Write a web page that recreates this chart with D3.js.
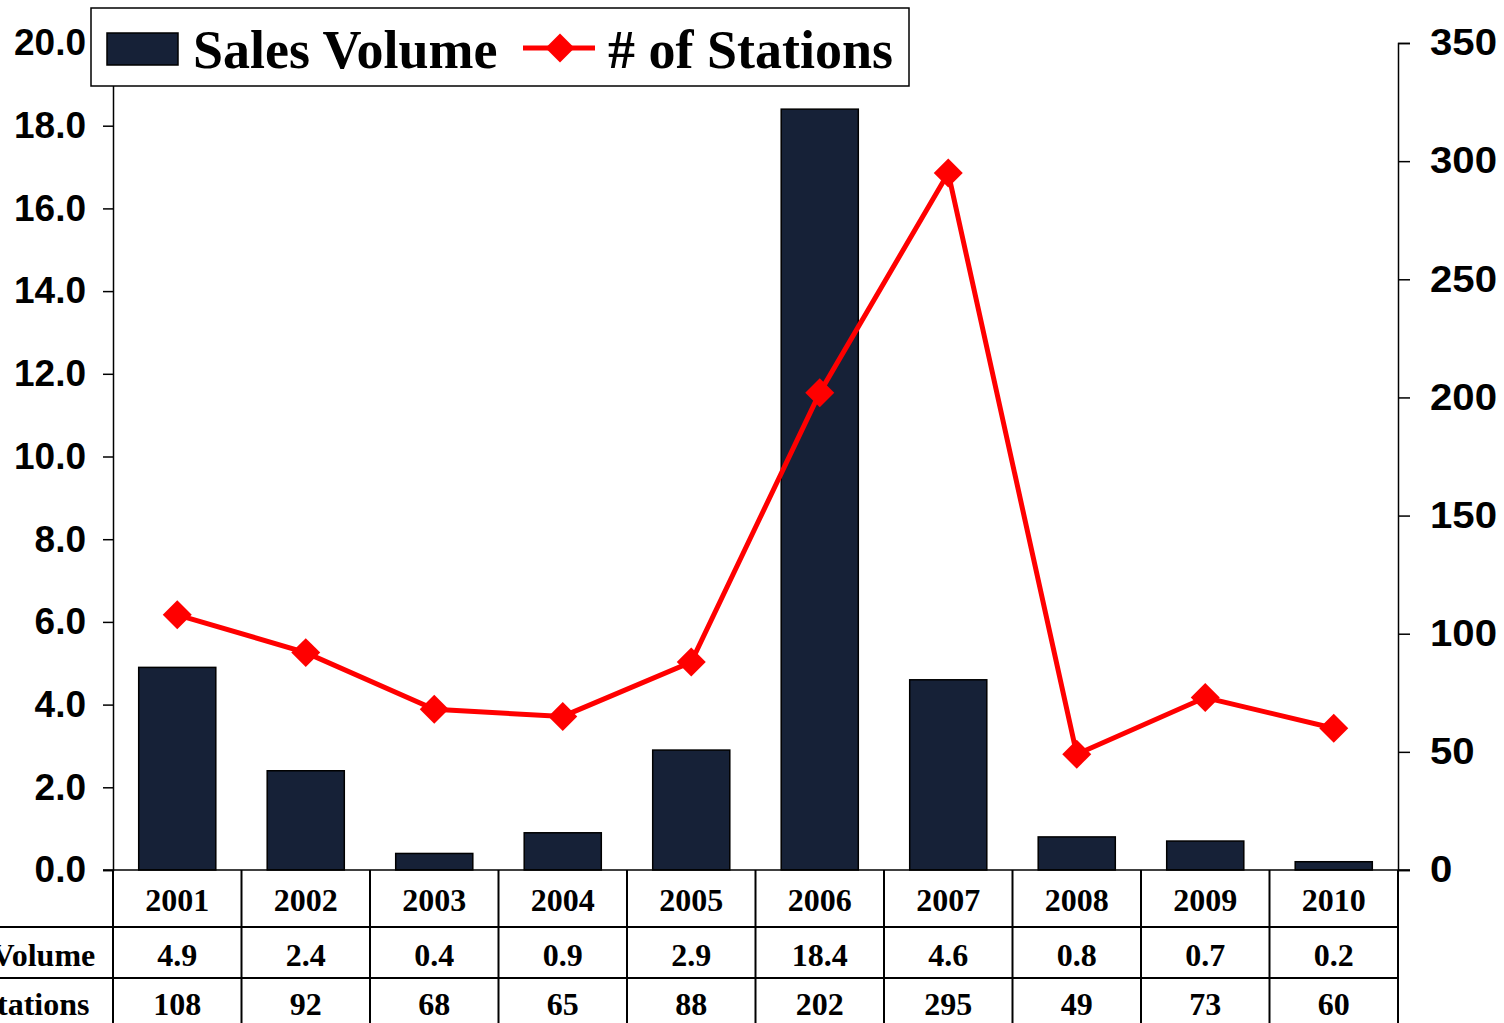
<!DOCTYPE html>
<html>
<head>
<meta charset="utf-8">
<script src="https://cdn.jsdelivr.net/npm/d3@7"></script>
<style>
  html, body { margin: 0; padding: 0; background: #fff; }
  svg { display: block; }
</style>
</head>
<body>
<div id="chart"></div>
<script>
// donnees
var years = ["2001", "2002", "2003", "2004", "2005", "2006", "2007", "2008", "2009", "2010"];
var salesVolume = [4.9, 2.4, 0.4, 0.9, 2.9, 18.4, 4.6, 0.8, 0.7, 0.2];
var stations = [108, 92, 68, 65, 88, 202, 295, 49, 73, 60];
var leftTicks = [0, 2, 4, 6, 8, 10, 12, 14, 16, 18, 20];
var rightTicks = [0, 50, 100, 150, 200, 250, 300, 350];
var rowLabels = ["Sales Volume", "# of Stations"];

var width = 1504, height = 1023;
var plotLeft = 113, plotRight = 1398, plotTop = 43, plotBottom = 870;
var rowLines = [927, 978];

var sans = "'Liberation Sans', Arial, sans-serif";
var serif = "'Liberation Serif', 'Times New Roman', serif";

var svg = d3.select("#chart").append("svg")
    .attr("width", width)
    .attr("height", height);

var x = d3.scaleBand()
    .domain(years)
    .range([plotLeft, plotRight])
    .paddingInner(0.4)
    .paddingOuter(0.2);

var xCol = d3.scaleBand()
    .domain(years)
    .range([plotLeft, plotRight]);

var yL = d3.scaleLinear().domain([0, 20]).range([plotBottom, plotTop]);
var yR = d3.scaleLinear().domain([0, 350]).range([plotBottom, plotTop]);

// barres
svg.append("g").selectAll("rect")
    .data(years)
    .enter().append("rect")
    .attr("x", function(d) { return x(d); })
    .attr("width", x.bandwidth())
    .attr("y", function(d, i) { return yL(salesVolume[i]); })
    .attr("height", function(d, i) { return plotBottom - yL(salesVolume[i]); })
    .attr("fill", "#162137")
    .attr("stroke", "#000")
    .attr("stroke-width", 1.5);

// axes
var axL = svg.append("g")
    .attr("transform", "translate(" + plotLeft + ",0)")
    .call(d3.axisLeft(yL).tickValues(leftTicks).tickSizeOuter(0).tickSize(10).tickPadding(17)
        .tickFormat(d3.format(".1f")));
var axR = svg.append("g")
    .attr("transform", "translate(" + plotRight + ",0)")
    .call(d3.axisRight(yR).tickValues(rightTicks).tickSizeOuter(0).tickSize(12).tickPadding(17.5));

[axL, axR].forEach(function(ax) {
    ax.selectAll("path, line").attr("stroke", "#000").attr("stroke-width", 1.5);
    ax.selectAll("text")
        .attr("fill", "#000")
        .style("font-family", sans)
        .style("font-weight", "bold")
        .style("font-size", "37px");
});
// les chiffres de droite sont un peu plus larges
axR.selectAll("text").attr("transform", "scale(1.085,1)");

// ligne des stations
var line = d3.line()
    .x(function(d, i) { return x(years[i]) + x.bandwidth() / 2; })
    .y(function(d) { return yR(d); });

svg.append("path")
    .datum(stations)
    .attr("d", line)
    .attr("fill", "none")
    .attr("stroke", "#ff0000")
    .attr("stroke-width", 5);

var diamond = d3.symbol().type(d3.symbolSquare).size(420);
svg.append("g").selectAll("path")
    .data(stations)
    .enter().append("path")
    .attr("d", diamond)
    .attr("fill", "#ff0000")
    .attr("transform", function(d, i) {
        return "translate(" + (x(years[i]) + x.bandwidth() / 2) + "," + yR(d) + ") rotate(45)";
    });

// tableau de donnees
var tbl = svg.append("g");
tbl.append("line")
    .attr("x1", plotLeft - 10).attr("x2", plotRight + 12)
    .attr("y1", plotBottom).attr("y2", plotBottom)
    .attr("stroke", "#000").attr("stroke-width", 1.5);
rowLines.forEach(function(yy) {
    tbl.append("line")
        .attr("x1", 0).attr("x2", plotRight)
        .attr("y1", yy).attr("y2", yy)
        .attr("stroke", "#000").attr("stroke-width", 2);
});
years.concat(["end"]).forEach(function(d, i) {
    var xx = i < years.length ? xCol(d) : plotRight;
    tbl.append("line")
        .attr("x1", xx).attr("x2", xx)
        .attr("y1", plotBottom).attr("y2", height)
        .attr("stroke", "#000").attr("stroke-width", 2);
});

function cellText(arr, yy) {
    tbl.append("g").selectAll("text")
        .data(arr)
        .enter().append("text")
        .attr("x", function(d, i) { return xCol(years[i]) + xCol.bandwidth() / 2; })
        .attr("y", yy)
        .attr("text-anchor", "middle")
        .style("font-family", serif)
        .style("font-weight", "bold")
        .style("font-size", "32px")
        .text(function(d) { return d; });
}
cellText(years, 911);
cellText(salesVolume.map(function(v) { return v.toFixed(1); }), 966);
cellText(stations, 1015);

// libelles des lignes, centres sur une colonne coupee a gauche
tbl.selectAll(".rowlab")
    .data(rowLabels)
    .enter().append("text")
    .attr("x", 5)
    .attr("y", function(d, i) { return i == 0 ? 966 : 1015; })
    .attr("text-anchor", "middle")
    .style("font-family", serif)
    .style("font-weight", "bold")
    .style("font-size", "32px")
    .text(function(d) { return d; });

// legende
var lg = svg.append("g");
lg.append("rect")
    .attr("x", 91).attr("y", 8)
    .attr("width", 818).attr("height", 78)
    .attr("fill", "#fff").attr("stroke", "#000").attr("stroke-width", 1.5);
lg.append("rect")
    .attr("x", 107).attr("y", 33)
    .attr("width", 71).attr("height", 32)
    .attr("fill", "#162137").attr("stroke", "#000").attr("stroke-width", 1.5);
lg.append("text")
    .attr("x", 193).attr("y", 68)
    .style("font-family", serif).style("font-weight", "bold").style("font-size", "54px")
    .text("Sales Volume");
lg.append("line")
    .attr("x1", 523).attr("x2", 595).attr("y1", 48).attr("y2", 48)
    .attr("stroke", "#ff0000").attr("stroke-width", 5);
lg.append("path")
    .attr("d", diamond)
    .attr("fill", "#ff0000")
    .attr("transform", "translate(560,48) rotate(45)");
lg.append("text")
    .attr("x", 608).attr("y", 68)
    .style("font-family", serif).style("font-weight", "bold").style("font-size", "54px")
    .text("# of Stations");
</script>
</body>
</html>
